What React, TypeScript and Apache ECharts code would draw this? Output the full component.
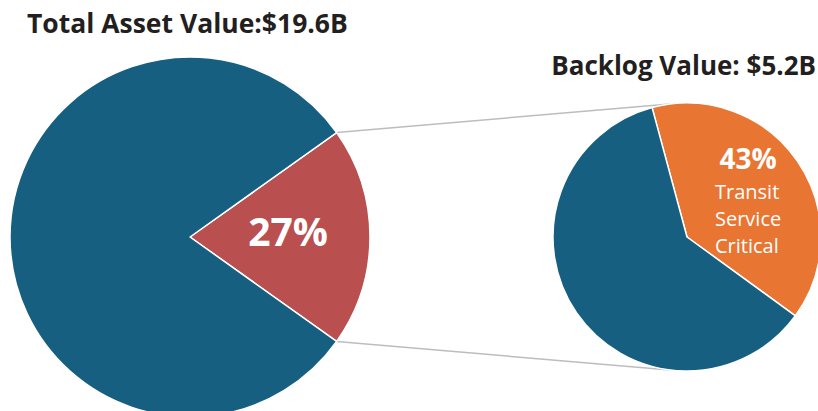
import React, { useEffect, useRef } from 'react';
import * as echarts from 'echarts';

const titles = ['Total Asset Value:$19.6B', 'Backlog Value: $5.2B'];
const assetNames = ['Backlog', 'Other assets'];
const assetShares = [19.7, 80.3]; // slice sizes as drawn in the picture
const assetLabel = '27%';
const backlogNames = ['Transit Service Critical', 'Other backlog'];
const backlogShares = [39.2, 60.8];
const backlogLabel = '43%';
const backlogLabelLines = ['Transit', 'Service', 'Critical'];

const W = 818;
const H = 411;
const BLUE = '#165f80';
const RED = '#b94f4f';
const ORANGE = '#e87532';
const FONT = '"Open Sans", "Noto Sans", sans-serif';

const L = { cx: 190, cy: 237, r: 180 };
const R = { cx: 687, cy: 237, r: 134 };
const leftStart = (assetShares[0] * 3.6) / 2;
const rightStart = 105.1;

function tangentEnd(px: number, py: number, upper: boolean) {
  const dx = R.cx - px;
  const dy = R.cy - py;
  const d = Math.hypot(dx, dy);
  const base = Math.atan2(dy, dx);
  const alpha = Math.asin(R.r / d);
  const ang = upper ? base - alpha : base + alpha;
  const len = Math.sqrt(d * d - R.r * R.r);
  return [px + len * Math.cos(ang), py + len * Math.sin(ang)];
}

export default function App() {
  const ref = useRef<HTMLDivElement>(null);
  useEffect(() => {
    document.body.style.margin = '0';
    const chart = echarts.init(ref.current!, null, { renderer: 'svg' });
    const a = (leftStart * Math.PI) / 180;
    const p1 = [L.cx + L.r * Math.cos(a), L.cy - L.r * Math.sin(a)];
    const p2 = [L.cx + L.r * Math.cos(a), L.cy + L.r * Math.sin(a)];
    const e1 = tangentEnd(p1[0], p1[1], true);
    const e2 = tangentEnd(p2[0], p2[1], false);
    const lineStyle = { stroke: '#bdbdbd', lineWidth: 1.5 };
    chart.setOption({
      animation: false,
      backgroundColor: '#ffffff',
      graphic: [
        { type: 'line', z: 0, shape: { x1: p1[0], y1: p1[1], x2: e1[0], y2: e1[1] }, style: lineStyle },
        { type: 'line', z: 0, shape: { x1: p2[0], y1: p2[1], x2: e2[0], y2: e2[1] }, style: lineStyle },
        {
          type: 'text', z: 100, x: 27, y: 23,
          style: { text: titles[0], font: `bold 26.5px ${FONT}`, fill: '#231f20', align: 'left', verticalAlign: 'middle' },
        },
        {
          type: 'text', z: 100, x: 816, y: 64.5,
          style: { text: titles[1], font: `bold 26px ${FONT}`, fill: '#231f20', align: 'right', verticalAlign: 'middle' },
        },
        {
          type: 'text', z: 100, x: 288, y: 230,
          style: { text: assetLabel, font: `bold 39px ${FONT}`, fill: '#ffffff', align: 'center', verticalAlign: 'middle' },
        },
        {
          type: 'text', z: 100, x: 748, y: 158,
          style: { text: backlogLabel, font: `bold 28px ${FONT}`, fill: '#ffffff', align: 'center', verticalAlign: 'middle' },
        },
        ...backlogLabelLines.map((t, i) => ({
          type: 'text', z: 100, x: 715, y: 191 + i * 27,
          style: { text: t, font: `20px ${FONT}`, fill: '#ffffff', align: 'left', verticalAlign: 'middle' },
        })),
      ],
      series: [
        {
          type: 'pie',
          center: [L.cx, L.cy],
          radius: [0, L.r],
          startAngle: leftStart,
          clockwise: true,
          label: { show: false },
          labelLine: { show: false },
          silent: true,
          itemStyle: { borderColor: '#ffffff', borderWidth: 1.5 },
          data: assetNames.map((n, i) => ({ name: n, value: assetShares[i], itemStyle: { color: i === 0 ? RED : BLUE } })),
        },
        {
          type: 'pie',
          center: [R.cx, R.cy],
          radius: [0, R.r],
          startAngle: rightStart,
          clockwise: true,
          label: { show: false },
          labelLine: { show: false },
          silent: true,
          itemStyle: { borderColor: '#ffffff', borderWidth: 1.5 },
          data: backlogNames.map((n, i) => ({ name: n, value: backlogShares[i], itemStyle: { color: i === 0 ? ORANGE : BLUE } })),
        },
      ],
    });
    return () => chart.dispose();
  }, []);
  return <div ref={ref} style={{ width: W, height: H }} />;
}
